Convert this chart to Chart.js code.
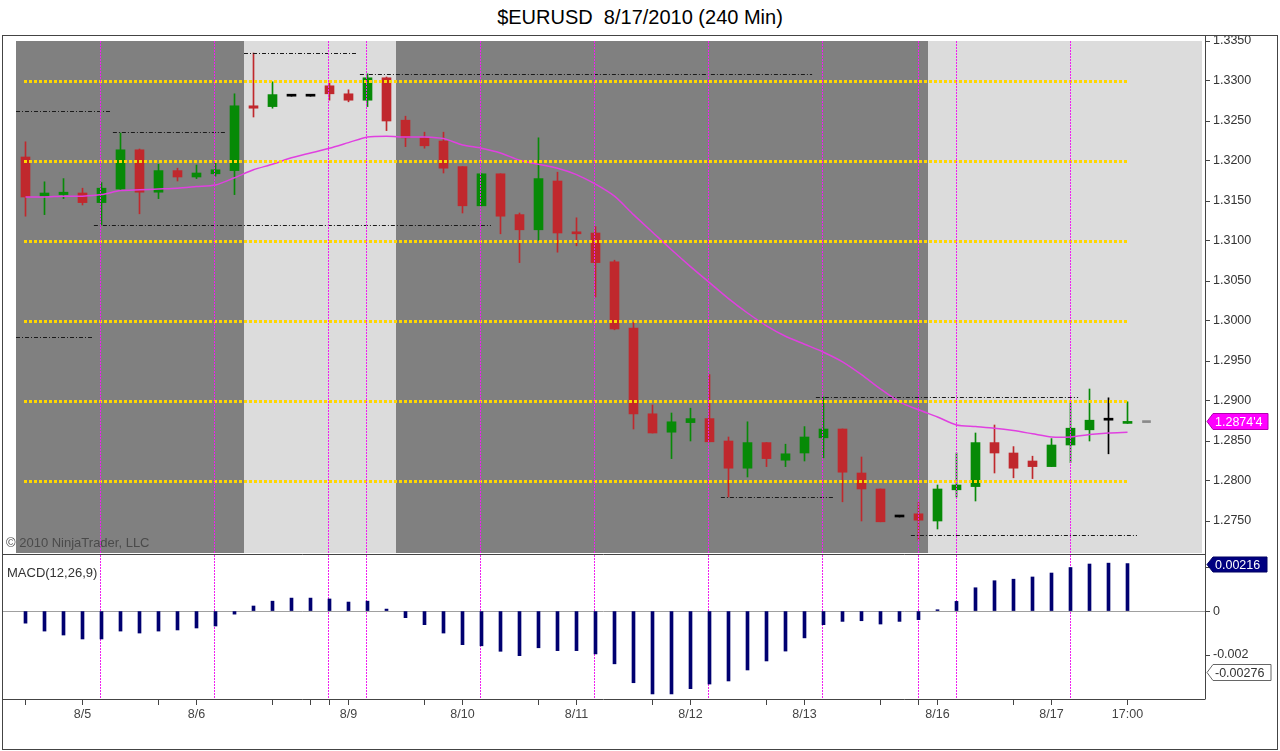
<!DOCTYPE html>
<html>
<head>
<meta charset="utf-8">
<script src="https://cdn.jsdelivr.net/npm/chart.js@4.4.0/dist/chart.umd.min.js"></script>
<style>
  body { margin:0; background:#fff; width:1280px; height:751px; overflow:hidden; position:relative;
         font-family:"Liberation Sans", Arial, sans-serif; }
  #title { position:absolute; left:0; top:5px; width:1280px; text-align:center; font-size:20px; line-height:24px; color:#000; }
  #frame { position:absolute; left:2px; top:35px; width:1274px; height:713px; border:1px solid #444; pointer-events:none; }
  #c1 { position:absolute; left:0; top:0; }
  #c2 { position:absolute; left:0; top:555px; }
</style>
</head>
<body>
<div id="title">$EURUSD&nbsp; 8/17/2010 (240 Min)</div>
<canvas id="c1" width="1280" height="555"></canvas>
<canvas id="c2" width="1280" height="196"></canvas>
<div id="frame"></div>
<script>
// 240 min bars, 8/4 .. 8/17 2010
const opens = [1.3205,1.3156,1.3158,1.3160,1.3148,1.3165,1.3214,1.3161,1.3188,1.3180,
  1.3184,1.3188,1.3269,1.3268,1.3281,1.3281,1.3294,1.3284,1.3276,1.3304,
  1.3251,1.3229,1.3225,1.3193,1.3144,1.3184,1.3133,1.3114,1.3175,1.3111,
  1.3110,1.3074,1.2991,1.2884,1.2861,1.2873,1.2878,1.2850,1.2816,1.2848,
  1.2826,1.2835,1.2854,1.2865,1.2810,1.2790,1.2755,1.2759,1.2750,1.2789,
  1.2793,1.2848,1.2835,1.2825,1.2818,1.2845,1.2864,1.2876,1.2872]
const highs = [1.3224,1.3174,1.3178,1.3166,1.3173,1.3235,1.3215,1.3196,1.3191,1.3195,
  1.3201,1.3284,1.3335,1.3299,1.3281,1.3281,1.3299,1.3289,1.3309,1.3305,
  1.3256,1.3236,1.3236,1.3193,1.3184,1.3184,1.3135,1.3229,1.3186,1.3129,
  1.3118,1.3076,1.2998,1.2895,1.2885,1.2891,1.2933,1.2855,1.2874,1.2848,
  1.2846,1.2868,1.2905,1.2865,1.2830,1.2790,1.2755,1.2773,1.2795,1.2835,
  1.2860,1.2870,1.2843,1.2831,1.2853,1.2899,1.2915,1.2904,1.2899]
const lows = [1.3131,1.3133,1.3153,1.3145,1.3120,1.3164,1.3134,1.3153,1.3175,1.3178,
  1.3181,1.3158,1.3255,1.3266,1.3281,1.3281,1.3276,1.3274,1.3268,1.3238,
  1.3218,1.3216,1.3185,1.3135,1.3144,1.3109,1.3073,1.3101,1.3086,1.3094,
  1.3030,1.2989,1.2865,1.2860,1.2828,1.2850,1.2849,1.2780,1.2805,1.2818,
  1.2818,1.2825,1.2829,1.2774,1.2750,1.2749,1.2755,1.2726,1.2740,1.2780,
  1.2775,1.2810,1.2804,1.2803,1.2818,1.2823,1.2850,1.2834,1.2872]
const closes = [1.3155,1.3160,1.3161,1.3148,1.3166,1.3214,1.3161,1.3188,1.3180,1.3185,
  1.3189,1.3269,1.3266,1.3283,1.3281,1.3281,1.3284,1.3276,1.3304,1.3250,
  1.3229,1.3219,1.3191,1.3144,1.3184,1.3131,1.3114,1.3178,1.3110,1.3109,
  1.3073,1.2990,1.2884,1.2860,1.2874,1.2878,1.2849,1.2816,1.2848,1.2828,
  1.2834,1.2855,1.2865,1.2811,1.2790,1.2749,1.2755,1.2751,1.2790,1.2795,
  1.2848,1.2835,1.2816,1.2818,1.2845,1.2866,1.2876,1.2876,1.28744]
const pendingBar = 1.2873 // gray dash after last bar

// moving average (magenta)
const sma = [1.3155,1.3155,1.3156,1.3156,1.3158,1.3163,1.3164,1.3165,1.3166,1.3168,
  1.3170,1.3179,1.3189,1.3196,1.3204,1.3210,1.3216,1.3223,1.3230,1.3231,
  1.3230,1.3230,1.3228,1.3220,1.3216,1.3210,1.3201,1.3196,1.3191,1.3183,
  1.3171,1.3156,1.3133,1.3111,1.3089,1.3068,1.3048,1.3028,1.3010,1.2994,
  1.2981,1.2971,1.2961,1.2949,1.2933,1.2915,1.2899,1.2889,1.2880,1.2870,
  1.2868,1.2866,1.2863,1.2859,1.2855,1.2855,1.2858,1.2860,1.2861]

// MACD(12,26,9) histogram
const macd = [-0.00055,-0.00091,-0.00109,-0.00127,-0.00127,-0.00091,-0.00100,-0.00091,-0.00086,-0.00077,
  -0.00068,-0.00014,0.00023,0.00045,0.00059,0.00059,0.00055,0.00041,0.00045,0.00009,
  -0.00030,-0.00062,-0.00100,-0.00153,-0.00158,-0.00183,-0.00203,-0.00167,-0.00180,-0.00180,
  -0.00195,-0.00240,-0.00326,-0.00377,-0.00377,-0.00353,-0.00332,-0.00318,-0.00268,-0.00227,
  -0.00182,-0.00122,-0.00062,-0.00047,-0.00044,-0.00059,-0.00047,-0.00039,0.00006,0.00044,
  0.00106,0.00138,0.00145,0.00155,0.00173,0.00198,0.00214,0.00218,0.00216]
const macdLowTag = -0.00276

// sessions (bar index ranges), null = open to the right edge
const darkSessions = [[0, 11], [20, 47]]
const lightSessions = [[12, 19], [48, null]]

const roundLevels = [1.33, 1.32, 1.31, 1.30, 1.29, 1.28]
const refLevels = [1.3335, 1.3309, 1.3263, 1.3236, 1.3120, 1.2980, 1.2905, 1.2780, 1.2733]
const refFrom   = [11.5, 17.6, -0.5, 4.6, 3.6, -0.5, 41.6, 36.6, 46.6]
const refTo     = [17.5, 41.4, 4.5, 10.5, 24.5, 3.5, 55.4, 42.5, 58.5]
const markerBars = [4, 10, 16, 18, 24, 30, 36, 42, 47, 49, 55]

const priceTicks = [1.3350,1.3300,1.3250,1.3200,1.3150,1.3100,1.3050,1.3000,1.2950,1.2900,1.2850,1.2800,1.2750]
const macdTicks = [0.002, 0, -0.002]
const tickBars = [0,3,7,9,13,15,16,17,21,23,27,29,33,35,39,41,45,47,48,52,54,58]
const labelBars = [3, 9, 17, 23, 29, 35, 41, 48, 54, 58]
const labelText = ['8/5','8/6','8/9','8/10','8/11','8/12','8/13','8/16','8/17','17:00']

Chart.defaults.font.family = '"Liberation Sans", Arial, sans-serif'
Chart.defaults.font.size = 12
Chart.defaults.color = '#333'
Chart.defaults.animation = false

const idx = opens.map((v, i) => i)
const candleColor = idx.map(i => closes[i] > opens[i] ? '#078a07' : (closes[i] < opens[i] ? '#c0282d' : '#000000'))

const xMin = -23.5 / 19
const xMax = xMin + 1203 / 19
const FONT = '"Liberation Sans", Arial, sans-serif'

function fitY(s) { s.width = 75; s.paddingTop = 0; s.paddingBottom = 0 }

function drawMarkers(chart) {
  const {ctx, chartArea: a, scales: {x}} = chart
  ctx.save()
  ctx.strokeStyle = '#f020f0'
  ctx.lineWidth = 1
  ctx.setLineDash([2, 1])
  markerBars.forEach(b => {
    // snap to an even pixel column so the thin magenta keeps its colour
    const px = 2 * Math.floor(x.getPixelForValue(b) / 2) + 0.5
    ctx.beginPath(); ctx.moveTo(px, a.top); ctx.lineTo(px, a.bottom); ctx.stroke()
  })
  ctx.restore()
}

function drawTag(ctx, x, y, w, h, text, fill, stroke, color) {
  const tip = 6
  ctx.save()
  ctx.beginPath()
  ctx.moveTo(x, y)
  ctx.lineTo(x + tip, y - h / 2)
  ctx.lineTo(x + tip + w, y - h / 2)
  ctx.lineTo(x + tip + w, y + h / 2)
  ctx.lineTo(x + tip, y + h / 2)
  ctx.closePath()
  ctx.fillStyle = fill; ctx.fill()
  ctx.strokeStyle = stroke; ctx.lineWidth = 1; ctx.stroke()
  ctx.fillStyle = color
  ctx.font = '12.5px ' + FONT
  ctx.textBaseline = 'middle'
  ctx.textAlign = 'left'
  ctx.fillText(text, x + tip + 2, y + 1)
  ctx.restore()
}

const pricePanel = {
  id: 'pricePanel',
  beforeDatasetsDraw(chart) {
    const {ctx, chartArea: a, scales: {x}} = chart
    ctx.save()
    const shade = (list, color) => list.forEach(([f, t]) => {
      const x0 = x.getPixelForValue(f - 0.5)
      const x1 = t === null ? a.right - 3 : x.getPixelForValue(t + 0.5)
      ctx.fillStyle = color
      ctx.fillRect(x0, a.top, x1 - x0, a.bottom - a.top)
    })
    shade(darkSessions, '#808080')
    shade(lightSessions, '#dcdcdc')
    ctx.restore()
  },
  afterDatasetsDraw(chart) {
    const {ctx, chartArea: a, scales: {x, y}} = chart
    ctx.save()
    // round levels
    ctx.strokeStyle = '#ffd700'
    ctx.lineWidth = 3
    ctx.setLineDash([3, 2])
    roundLevels.forEach(v => {
      const py = Math.round(y.getPixelForValue(v)) + 0.5
      ctx.beginPath(); ctx.moveTo(x.getPixelForValue(0) - 1.5, py); ctx.lineTo(x.getPixelForValue(58) + 1.5, py); ctx.stroke()
    })
    // prior high / low lines
    ctx.strokeStyle = '#1a1a1a'
    ctx.lineWidth = 1
    ctx.setLineDash([4, 2, 1, 2])
    refLevels.forEach((v, k) => {
      const py = Math.round(y.getPixelForValue(v)) + 0.5
      ctx.beginPath(); ctx.moveTo(x.getPixelForValue(refFrom[k]), py); ctx.lineTo(x.getPixelForValue(refTo[k]), py); ctx.stroke()
    })
    ctx.restore()
    drawMarkers(chart)
    ctx.save()
    ctx.fillStyle = '#4a4a4a'
    ctx.font = '13px ' + FONT
    ctx.textBaseline = 'middle'
    ctx.fillText('\u00a9 2010 NinjaTrader, LLC', 6, a.bottom - 10)
    ctx.restore()
  },
  afterDraw(chart) {
    const {ctx, chartArea: a, scales: {y}} = chart
    ctx.save()
    ctx.strokeStyle = '#444'
    ctx.lineWidth = 1
    ctx.beginPath()
    ctx.moveTo(a.right + 0.5, 35); ctx.lineTo(a.right + 0.5, chart.height)
    ctx.moveTo(a.left, a.bottom + 1.5); ctx.lineTo(a.right, a.bottom + 1.5)
    ctx.stroke()
    ctx.restore()
    const last = closes[closes.length - 1]
    const s = last.toFixed(5)
    drawTag(ctx, a.right + 2, Math.round(y.getPixelForValue(last)) + 0.5, 55, 16,
      s.slice(0, 6) + "'" + s.slice(6), '#ff00ff', '#b000b0', '#ffffff')
  }
}

new Chart(document.getElementById('c1'), {
  type: 'bar',
  data: {
    datasets: [
      { type: 'line', data: sma.map((v, i) => ({x: i, y: v})), borderColor: '#e040e0', borderWidth: 1.5,
        pointRadius: 0, tension: 0.25, order: 0 },
      { data: idx.map(i => ({x: i, y: [opens[i], closes[i]]})), backgroundColor: candleColor,
        barThickness: 9, minBarLength: 2, grouped: false, order: 1 },
      { data: [{x: idx.length, y: [pendingBar, pendingBar]}], backgroundColor: '#8a8a8a',
        barThickness: 8, minBarLength: 2, grouped: false, order: 1 },
      { data: idx.map(i => ({x: i, y: [lows[i], highs[i]]})), backgroundColor: candleColor,
        barThickness: 1, grouped: false, order: 2 }
    ]
  },
  options: {
    responsive: false,
    layout: { padding: { left: 2, right: 0, top: 41, bottom: 2 } },
    plugins: { legend: { display: false }, tooltip: { enabled: false } },
    scales: {
      x: { type: 'linear', display: false, min: xMin, max: xMax, offset: false, grid: { offset: false } },
      y: {
        position: 'right', min: 1.271, max: 1.335, beginAtZero: false,
        afterFit: fitY,
        afterBuildTicks: s => { s.ticks = priceTicks.map(v => ({value: v})) },
        ticks: { callback: v => v.toFixed(4), padding: 3, color: '#333', font: { size: 12.5 } },
        grid: { drawOnChartArea: false, drawTicks: true, tickLength: 5, color: '#444' },
        border: { display: false }
      }
    }
  },
  plugins: [pricePanel]
})

const macdPanel = {
  id: 'macdPanel',
  beforeDatasetsDraw(chart) {
    const {ctx, chartArea: a, scales: {y}} = chart
    ctx.save()
    ctx.strokeStyle = '#a0a0a0'
    ctx.lineWidth = 1
    const y0 = Math.round(y.getPixelForValue(0)) + 0.5
    ctx.beginPath(); ctx.moveTo(a.left, y0); ctx.lineTo(a.right, y0); ctx.stroke()
    ctx.restore()
    drawMarkers(chart)
  },
  afterDraw(chart) {
    const {ctx, chartArea: a, scales: {y}} = chart
    ctx.save()
    ctx.strokeStyle = '#444'
    ctx.lineWidth = 1
    ctx.beginPath()
    ctx.moveTo(a.right + 0.5, 0); ctx.lineTo(a.right + 0.5, a.bottom + 0.5)
    ctx.moveTo(a.left, a.bottom + 0.5); ctx.lineTo(a.right, a.bottom + 0.5)
    ctx.stroke()
    ctx.fillStyle = '#333'
    ctx.font = '13px ' + FONT
    ctx.textBaseline = 'middle'
    ctx.fillText('MACD(12,26,9)', 7, a.top + 18)
    ctx.restore()
    const last = macd[macd.length - 1]
    drawTag(ctx, a.right + 2, Math.round(y.getPixelForValue(last)) + 0.5, 54, 15,
      last.toFixed(5), '#000080', '#000060', '#ffffff')
    drawTag(ctx, a.right + 2, Math.round(y.getPixelForValue(macdLowTag)) + 0.5, 58, 16,
      macdLowTag.toFixed(5), '#ffffff', '#666666', '#333333')
  }
}

new Chart(document.getElementById('c2'), {
  type: 'bar',
  data: {
    datasets: [
      { data: macd.map((v, i) => ({x: i, y: v})), backgroundColor: '#000070', barThickness: 3, grouped: false }
    ]
  },
  options: {
    responsive: false,
    layout: { padding: { left: 2, right: 0, top: 0, bottom: 0 } },
    plugins: { legend: { display: false }, tooltip: { enabled: false } },
    scales: {
      x: {
        type: 'linear', min: xMin, max: xMax, offset: false,
        afterFit: s => { s.height = 52; s.paddingLeft = 0; s.paddingRight = 0 },
        afterBuildTicks: s => { s.ticks = tickBars.map(v => ({value: v})) },
        ticks: {
          autoSkip: false, maxRotation: 0, padding: 2, color: '#444', font: { size: 12.5 },
          callback: v => { const k = labelBars.indexOf(v); return k >= 0 ? labelText[k] : '' }
        },
        grid: { offset: false, drawOnChartArea: false, drawTicks: true, tickLength: 6, color: '#444' },
        border: { display: false }
      },
      y: {
        position: 'right', min: -0.004, max: 0.00255, beginAtZero: false,
        afterFit: fitY,
        afterBuildTicks: s => { s.ticks = macdTicks.map(v => ({value: v})) },
        ticks: { callback: v => v === 0 ? '0' : v.toFixed(3), padding: 3, color: '#333', font: { size: 12.5 } },
        grid: { drawOnChartArea: false, drawTicks: true, tickLength: 5, color: '#444' },
        border: { display: false }
      }
    }
  },
  plugins: [macdPanel]
})
</script>
</body>
</html>
